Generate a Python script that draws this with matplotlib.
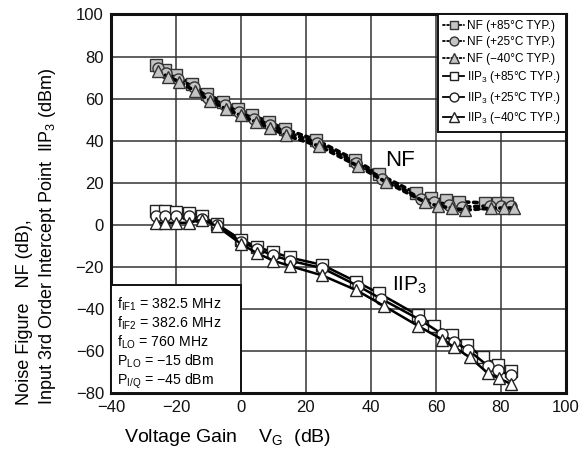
import matplotlib
matplotlib.use("Agg")
import matplotlib.pyplot as plt

plt.rcParams['font.family'] = ['Liberation Sans', 'DejaVu Sans']
plt.rcParams['mathtext.fontset'] = 'custom'
plt.rcParams['mathtext.rm'] = 'Liberation Sans'
plt.rcParams['mathtext.it'] = 'Liberation Sans'

# Noise figure vs. voltage gain (dB)
nf_x_85 = [-26, -23.5, -20, -15, -10.5, -5.5, -1, 3.5, 8.5, 13.5, 23, 35, 42.5, 54, 58.5, 63, 67, 75, 79, 82]
nf_y_85 = [76, 73.5, 71, 67, 62, 58.5, 55, 52, 49, 45.5, 40.5, 31, 24, 15, 13, 12, 11, 10.5, 10.5, 10.5]
nf_x_25 = [-25.5, -23, -19.5, -14.5, -10, -5, -0.5, 4, 9, 14, 23.5, 35.5, 43.5, 55.5, 59.5, 64, 68, 76.5, 80, 83]
nf_y_25 = [74.5, 72, 69.5, 65.5, 60.5, 57, 53.5, 50.5, 47.5, 44, 39, 29.5, 22, 12.5, 11, 9.5, 8.5, 9, 9, 9]
nf_x_m40 = [-25.5, -22.5, -19, -14, -9.5, -4.5, 0, 4.5, 9, 14, 24, 36, 44.5, 56.5, 60.5, 65, 69, 77, 81, 84]
nf_y_m40 = [73, 70.5, 68, 63.5, 59, 55, 52, 49, 46, 42.5, 37.5, 28, 20.5, 11, 9, 8, 7, 8, 8, 8]

# Input third-order intercept point vs. voltage gain (dBm)
iip_x_85 = [-26, -23.5, -20, -16, -12, -7.5, 0, 5, 10, 15, 25, 35.5, 42.5, 54.5, 59.5, 65, 69.5, 74.5, 79, 83]
iip_y_85 = [6.5, 6.5, 6, 5.5, 4, 0.5, -7, -10.5, -13, -15.5, -19, -27, -32.5, -43, -48, -52.5, -57, -63, -66.5, -69.5]
iip_x_25 = [-26, -23.5, -20, -16, -12, -7.5, 0, 5, 10, 15, 25, 36, 43, 55, 62, 65.5, 70, 76, 79, 83]
iip_y_25 = [4, 4, 4, 4, 3, 0, -8, -11.5, -14.5, -17, -20.5, -29, -35, -45, -52, -55.5, -59.5, -67, -69, -71.5]
iip_x_m40 = [-26, -23.5, -20, -16, -12, -7.5, 0, 5, 10, 15, 25, 35.5, 44, 54.5, 62, 65.5, 70.5, 76, 79.5, 83]
iip_y_m40 = [1, 1, 1, 1, 2.5, -0.5, -9, -13.5, -17, -19.5, -24, -31, -38.5, -48, -54.5, -58, -63, -70.5, -73, -75.5]

x_ticks = [-40, -20, 0, 20, 40, 60, 80, 100]
y_ticks = [-80, -60, -40, -20, 0, 20, 40, 60, 80, 100]

MINUS = '\u2212'
SUB3 = r'$_{\mathregular{3}}$'
labels_nf = ['NF (+85°C TYP.)', 'NF (+25°C TYP.)', 'NF (' + MINUS + '40°C TYP.)']
labels_iip = ['IIP' + SUB3 + ' (+85°C TYP.)', 'IIP' + SUB3 + ' (+25°C TYP.)',
              'IIP' + SUB3 + ' (' + MINUS + '40°C TYP.)']
conditions = [r'f$_{\mathregular{IF1}}$ = 382.5 MHz',
              r'f$_{\mathregular{IF2}}$ = 382.6 MHz',
              r'f$_{\mathregular{LO}}$ = 760 MHz',
              r'P$_{\mathregular{LO}}$ = ' + MINUS + '15 dBm',
              r'P$_{\mathregular{I/Q}}$ = ' + MINUS + '45 dBm']

fig = plt.figure(figsize=(5.87, 4.67), dpi=100)
ax = fig.add_axes([0.189, 0.158, 0.775, 0.811])

markers = ['s', 'o', '^']
sizes = [8, 8, 8.5]
nf_sets = [(nf_x_85, nf_y_85), (nf_x_25, nf_y_25), (nf_x_m40, nf_y_m40)]
iip_sets = [(iip_x_85, iip_y_85), (iip_x_25, iip_y_25), (iip_x_m40, iip_y_m40)]

handles = []
for (xs, ys), m, s, lab in zip(nf_sets, markers, sizes, labels_nf):
    h, = ax.plot(xs, ys, linestyle=(0, (1, 1.3)), color='black', lw=2.6,
                 marker=m, ms=s, mfc='#c4c4c4', mec='#333333', mew=1.0,
                 dash_capstyle='round', label=lab, zorder=3)
    handles.append(h)
for (xs, ys), m, s, lab in zip(iip_sets, markers, sizes, labels_iip):
    h, = ax.plot(xs, ys, linestyle='-', color='black', lw=1.8,
                 marker=m, ms=s, mfc='white', mec='#222222', mew=1.0,
                 label=lab, zorder=3)
    handles.append(h)

ax.set_xlim(-40, 100)
ax.set_ylim(-80, 100)
ax.set_xticks(x_ticks)
ax.set_yticks(y_ticks)
ax.set_xticklabels([str(t).replace('-', MINUS) for t in x_ticks])
ax.set_yticklabels([str(t).replace('-', MINUS) for t in y_ticks])
ax.tick_params(length=0, labelsize=12, pad=5, colors='#111111')
ax.grid(True, color='#333333', lw=1.1)
ax.set_axisbelow(True)
for sp in ax.spines.values():
    sp.set_linewidth(2.2)
    sp.set_color('#111111')

leg = ax.legend(handles=handles, loc='upper right',
                handlelength=1.7, handletextpad=0.25, labelspacing=0.38,
                borderpad=0.45, borderaxespad=0.0, fancybox=False,
                framealpha=1.0, edgecolor='#111111', markerscale=0.8,
                prop={'family': ['Liberation Sans', 'DejaVu Sans'], 'size': 8.5})
leg.get_frame().set_linewidth(1.4)
for ln in leg.get_lines():
    ln.set_linewidth(1.3)

ax.text(49, 30.5, 'NF', fontsize=16, ha='center', va='center', zorder=5)
ax.text(52, -28.5, 'IIP' + SUB3, fontsize=15, ha='center', va='center', zorder=5)

box = plt.Rectangle((-40, -80), 40, 51.5, fc='white', ec='#111111', lw=1.4, zorder=4)
ax.add_patch(box)
ax.text(-38, -33.5, '\n'.join(conditions), fontsize=10.2, ha='left', va='top',
        linespacing=1.13, zorder=6)

fig.text(228 / 587, 1 - 437 / 467, r'Voltage Gain    V$_{\mathregular{G}}$  (dB)',
         fontsize=14, ha='center', va='center')
fig.text(25 / 587, 1 - 405 / 467, 'Noise Figure   NF (dB),', fontsize=13,
         rotation=90, ha='center', va='bottom')
fig.text(47 / 587, 1 - 405 / 467,
         'Input 3rd Order Intercept Point  IIP' + SUB3 + ' (dBm)',
         fontsize=13, rotation=90, ha='center', va='bottom')

fig.savefig('out.png', dpi=100)
